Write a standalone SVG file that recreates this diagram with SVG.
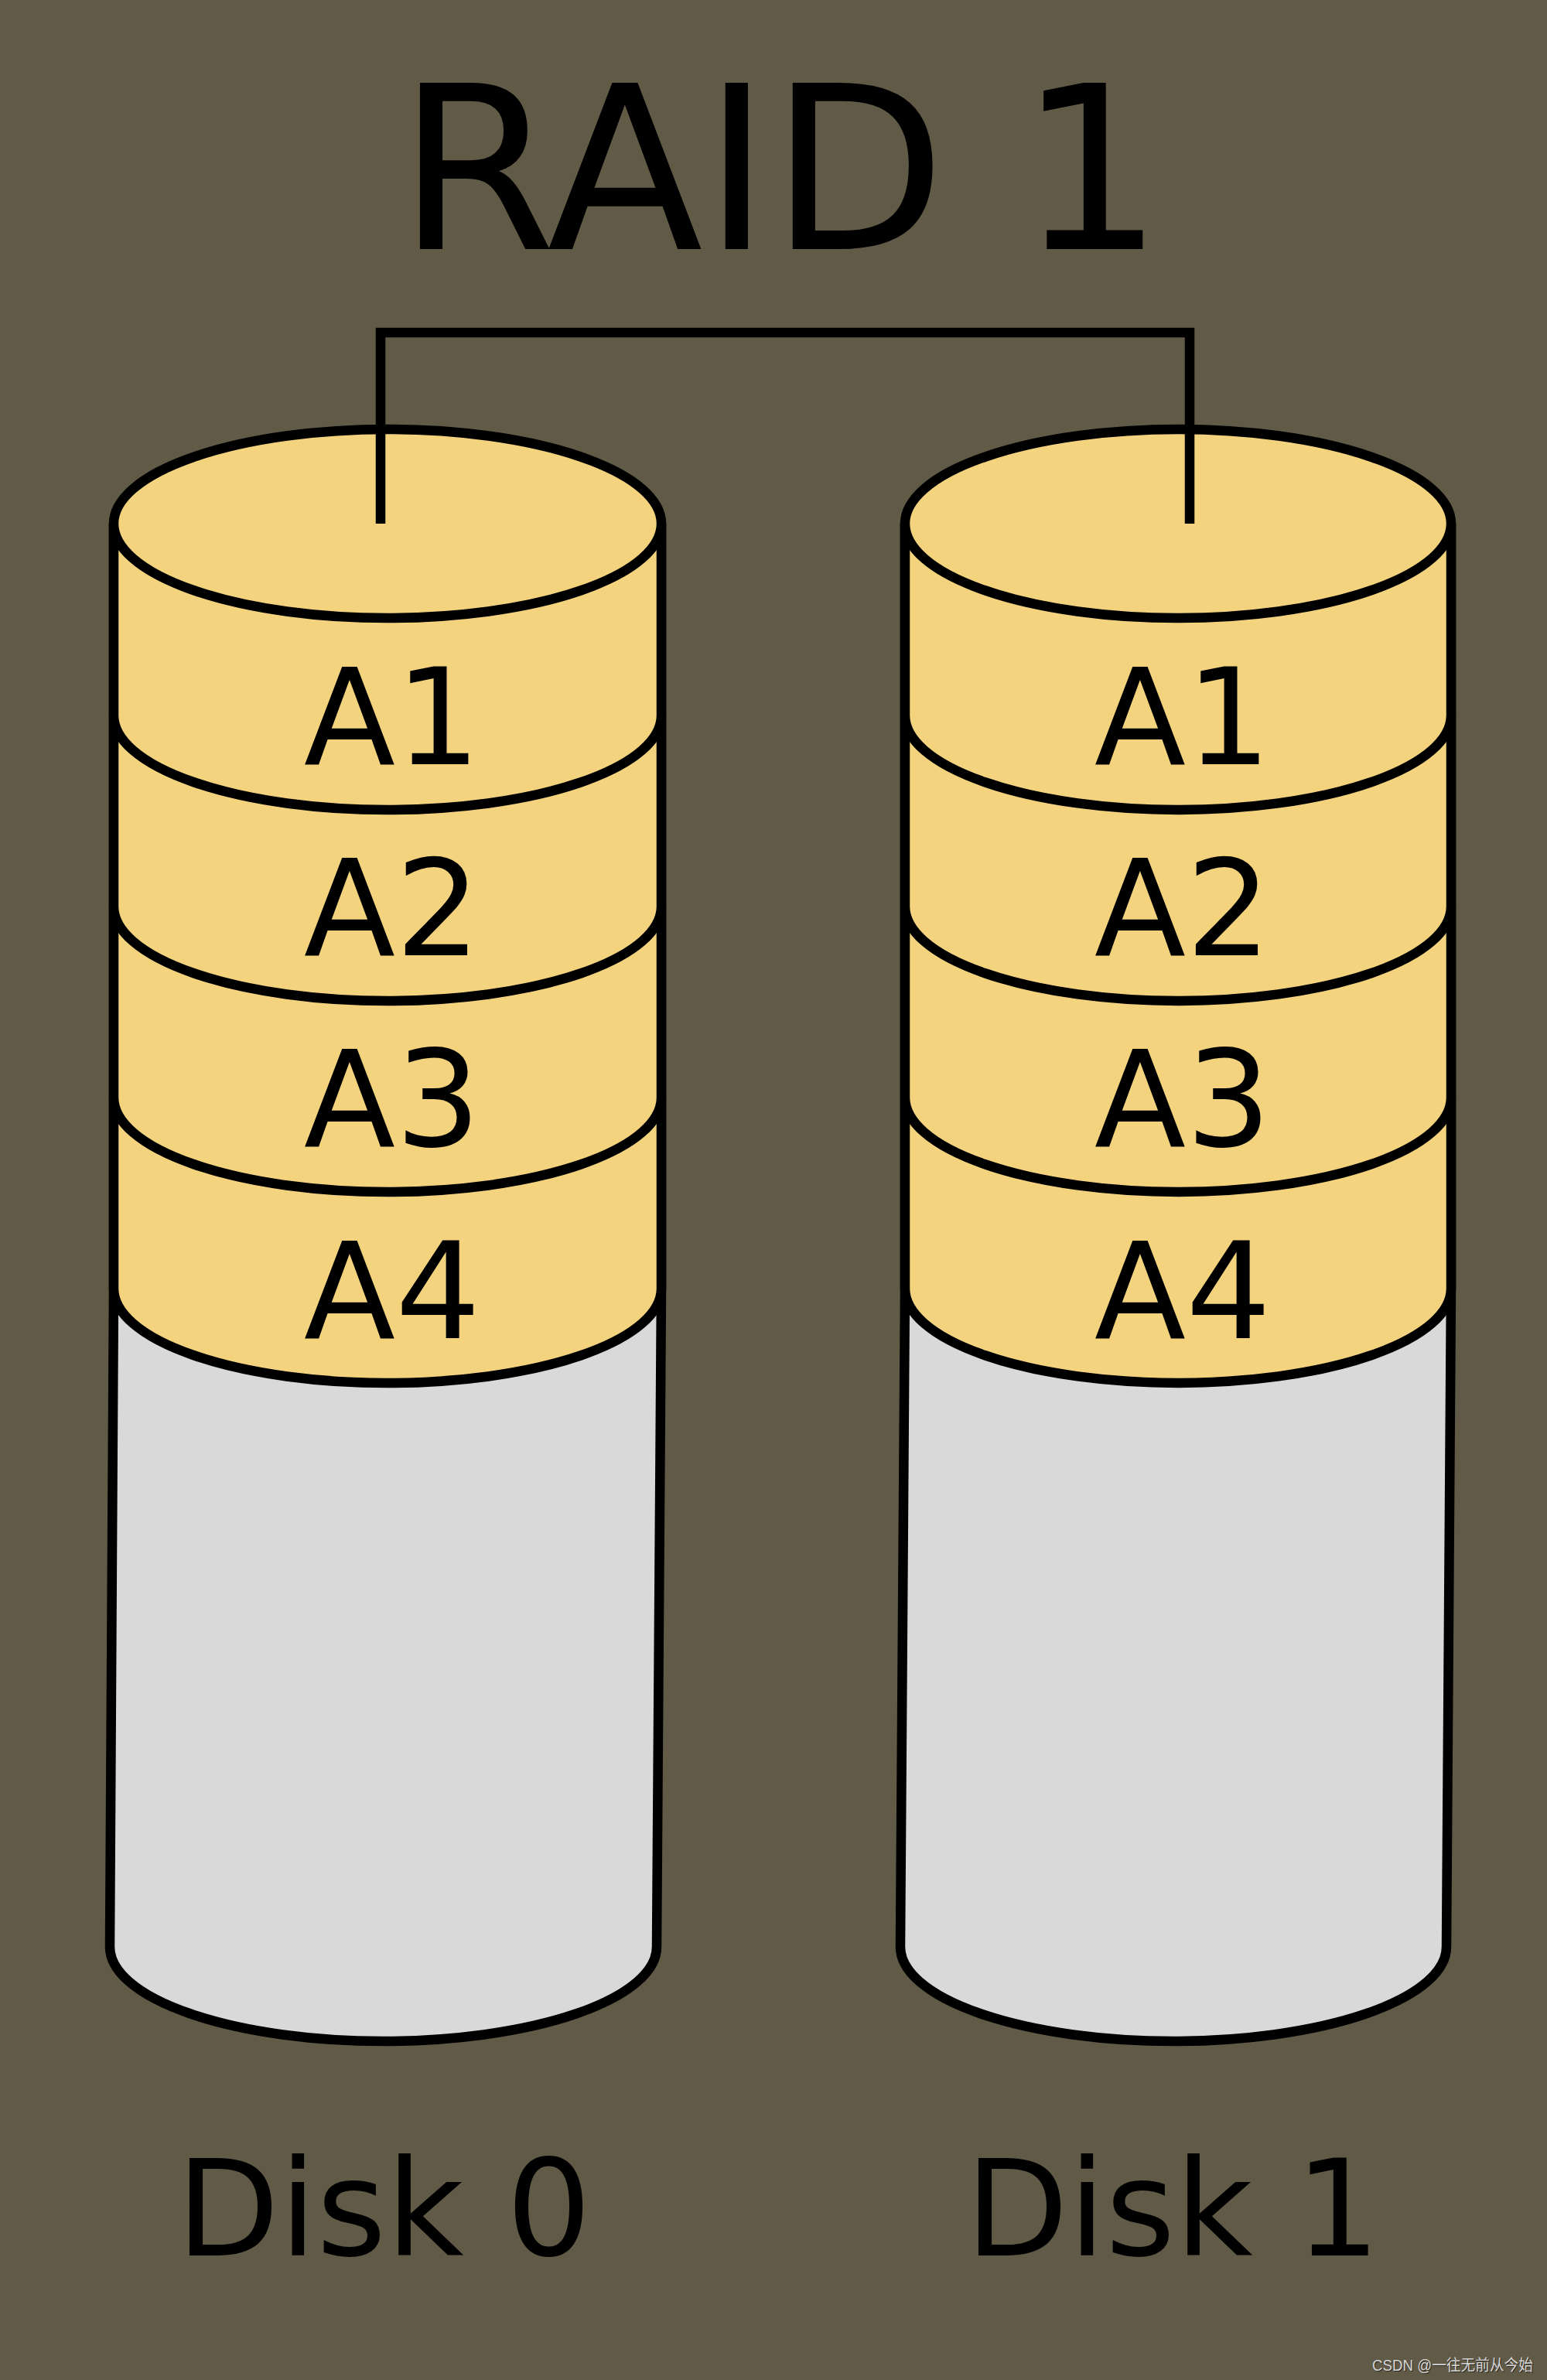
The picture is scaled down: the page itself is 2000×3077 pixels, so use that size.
<svg xmlns="http://www.w3.org/2000/svg" width="2000" height="3077" viewBox="0 0 2000 3077">
  <style>
    .ln { stroke:#000; stroke-width:12.5; fill:none; stroke-linejoin:miter; stroke-linecap:butt; }
    .body { fill:#d9d9d9; stroke:#000; stroke-width:12.5; }
    .band { fill:#f3d37d; stroke:#000; stroke-width:12.5; }
    .lbl { font-family:"DejaVu Sans", sans-serif; font-size:173px; fill:#000; text-anchor:middle; }
    .disk { font-family:"DejaVu Sans", sans-serif; font-size:173px; fill:#000; }
    .title { font-family:"DejaVu Sans", sans-serif; font-size:295px; fill:#000; }
    .wm { font-family:"Liberation Sans", "Noto Sans CJK SC", sans-serif; font-size:20px; text-anchor:end; }
  </style>
  <rect width="2000" height="3077" fill="#615a46"/>
  <text class="title" x="514" y="322">RAID 1</text>

  <g id="disk0">
    <path class="body" d="M 147 677 L 147 1666 L 142 2517 A 353.5 122 0 0 0 849 2517 L 855 1666 L 855 677"/>
    <path class="band" d="M 147 1419 L 147 1666 A 354 122 0 0 0 855 1666 L 855 1419"/>
    <path class="band" d="M 147 1172 L 147 1419 A 354 122 0 0 0 855 1419 L 855 1172"/>
    <path class="band" d="M 147 925 L 147 1172 A 354 122 0 0 0 855 1172 L 855 925"/>
    <path class="band" d="M 147 677 L 147 925 A 354 122 0 0 0 855 925 L 855 677"/>
    <ellipse class="band" cx="501" cy="677" rx="354" ry="122"/>
    <text class="lbl" x="507" y="988">A1</text>
    <text class="lbl" x="507" y="1235">A2</text>
    <text class="lbl" x="507" y="1482">A3</text>
    <text class="lbl" x="507" y="1730">A4</text>
    <text class="disk" x="228" y="2916">Disk 0</text>
  </g>

  <g id="disk1">
    <path class="body" d="M 1170 677 L 1170 1666 L 1164 2517 A 353 122 0 0 0 1870 2517 L 1876 1666 L 1876 677"/>
    <path class="band" d="M 1170 1419 L 1170 1666 A 353 122 0 0 0 1876 1666 L 1876 1419"/>
    <path class="band" d="M 1170 1172 L 1170 1419 A 353 122 0 0 0 1876 1419 L 1876 1172"/>
    <path class="band" d="M 1170 925 L 1170 1172 A 353 122 0 0 0 1876 1172 L 1876 925"/>
    <path class="band" d="M 1170 677 L 1170 925 A 353 122 0 0 0 1876 925 L 1876 677"/>
    <ellipse class="band" cx="1523" cy="677" rx="353" ry="122"/>
    <text class="lbl" x="1529" y="988">A1</text>
    <text class="lbl" x="1529" y="1235">A2</text>
    <text class="lbl" x="1529" y="1482">A3</text>
    <text class="lbl" x="1529" y="1730">A4</text>
    <text class="disk" x="1248" y="2916">Disk 1</text>
  </g>

  <g id="connectors">
    <path class="ln" d="M 492 677 L 492 430 L 1538 430 L 1538 677"/>
  </g>

  <g id="watermark">
    <text class="wm" x="1983" y="3066" fill="#2a2620" textLength="208" lengthAdjust="spacingAndGlyphs">CSDN @一往无前从今始</text>
    <text class="wm" x="1982" y="3065" fill="#d6d6d6" textLength="208" lengthAdjust="spacingAndGlyphs">CSDN @一往无前从今始</text>
  </g>
</svg>
